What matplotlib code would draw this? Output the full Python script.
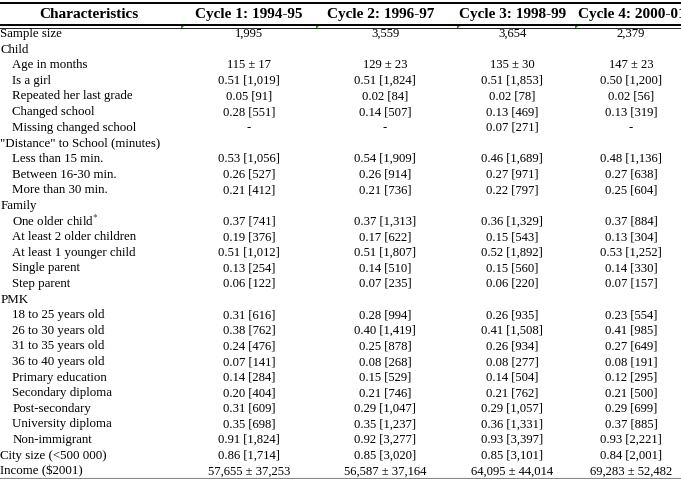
import matplotlib.pyplot as plt
from matplotlib.lines import Line2D

# row labels (indent = 1 for sub-items)
labels = ["Sample size", "Child", "Age in months", "Is a girl", "Repeated her last grade",
          "Changed school", "Missing changed school", "\"Distance\" to School (minutes)",
          "Less than 15 min.", "Between 16-30 min.", "More than 30 min.", "Family",
          "One older child$^{*}$", "At least 2 older children", "At least 1 younger child",
          "Single parent", "Step parent", "PMK", "18 to 25 years old", "26 to 30 years old",
          "31 to 35 years old", "36 to 40 years old", "Primary education", "Secondary diploma",
          "Post-secondary", "University diploma", "Non-immigrant", "City size (<500 000)",
          "Income (\\$2001)"]
indent = [0, 0, 1, 1, 1, 1, 1, 0, 1, 1, 1, 0, 1, 1, 1, 1, 1, 0,
          1, 1, 1, 1, 1, 1, 1, 1, 1, 0, 0]

headers = ["Characteristics", "Cycle 1: 1994-95", "Cycle 2: 1996-97",
           "Cycle 3: 1998-99", "Cycle 4: 2000-01"]

cycle1 = ["1,995", "", "115 ± 17", "0.51 [1,019]", "0.05 [91]", "0.28 [551]", "-", "",
          "0.53 [1,056]", "0.26 [527]", "0.21 [412]", "", "0.37 [741]", "0.19 [376]",
          "0.51 [1,012]", "0.13 [254]", "0.06 [122]", "", "0.31 [616]", "0.38 [762]",
          "0.24 [476]", "0.07 [141]", "0.14 [284]", "0.20 [404]", "0.31 [609]",
          "0.35 [698]", "0.91 [1,824]", "0.86 [1,714]", "57,655 ± 37,253"]
cycle2 = ["3,559", "", "129 ± 23", "0.51 [1,824]", "0.02 [84]", "0.14 [507]", "-", "",
          "0.54 [1,909]", "0.26 [914]", "0.21 [736]", "", "0.37 [1,313]", "0.17 [622]",
          "0.51 [1,807]", "0.14 [510]", "0.07 [235]", "", "0.28 [994]", "0.40 [1,419]",
          "0.25 [878]", "0.08 [268]", "0.15 [529]", "0.21 [746]", "0.29 [1,047]",
          "0.35 [1,237]", "0.92 [3,277]", "0.85 [3,020]", "56,587 ± 37,164"]
cycle3 = ["3,654", "", "135 ± 30", "0.51 [1,853]", "0.02 [78]", "0.13 [469]", "0.07 [271]", "",
          "0.46 [1,689]", "0.27 [971]", "0.22 [797]", "", "0.36 [1,329]", "0.15 [543]",
          "0.52 [1,892]", "0.15 [560]", "0.06 [220]", "", "0.26 [935]", "0.41 [1,508]",
          "0.26 [934]", "0.08 [277]", "0.14 [504]", "0.21 [762]", "0.29 [1,057]",
          "0.36 [1,331]", "0.93 [3,397]", "0.85 [3,101]", "64,095 ± 44,014"]
cycle4 = ["2,379", "", "147 ± 23", "0.50 [1,200]", "0.02 [56]", "0.13 [319]", "-", "",
          "0.48 [1,136]", "0.27 [638]", "0.25 [604]", "", "0.37 [884]", "0.13 [304]",
          "0.53 [1,252]", "0.14 [330]", "0.07 [157]", "", "0.23 [554]", "0.41 [985]",
          "0.27 [649]", "0.08 [191]", "0.12 [295]", "0.21 [500]", "0.29 [699]",
          "0.37 [885]", "0.93 [2,221]", "0.84 [2,001]", "69,283 ± 52,482"]
columns = [cycle1, cycle2, cycle3, cycle4]

plt.rcParams['font.family'] = ['Liberation Serif', 'DejaVu Serif']
plt.rcParams['mathtext.fontset'] = 'stix'

W, H = 681, 479
fig = plt.figure(figsize=(W / 100, H / 100), dpi=100)
ax = fig.add_axes([0, 0, 1, 1])
ax.set_xlim(0, W)
ax.set_ylim(H, 0)
ax.axis('off')

# layout
head_x = [89, 249, 381, 513, 632]
col_x = [249, 385, 512, 631]
y0, dy = 34, 15.62
head_y = 14

for x, h in zip(head_x, headers):
    ax.text(x, head_y, h, ha='center', va='center', fontsize=11, fontweight='bold')

for i, lab in enumerate(labels):
    y = y0 + i * dy
    ax.text(0.5 + 11.8 * indent[i], y, lab, ha='left', va='center', fontsize=9.3)
    for x, col in zip(col_x, columns):
        if col[i]:
            ax.text(x, y, col[i], ha='center', va='center', fontsize=9.1)

# rules
ax.add_line(Line2D([0, W], [2.5, 2.5], color='black', lw=1.4))
ax.add_line(Line2D([0, W], [24.8, 24.8], color='black', lw=1.4))
ax.add_line(Line2D([0, W], [27.8, 27.8], color='black', lw=0.6))
ax.add_line(Line2D([0, W], [477.5, 477.5], color='#888888', lw=0.8))

# small green comment markers under the header
for gx in [181, 316, 457, 575]:
    ax.fill([gx, gx + 3.5, gx], [25.5, 25.5, 29], color='#2e8b22', lw=0)

fig.savefig('out.png', dpi=100)
